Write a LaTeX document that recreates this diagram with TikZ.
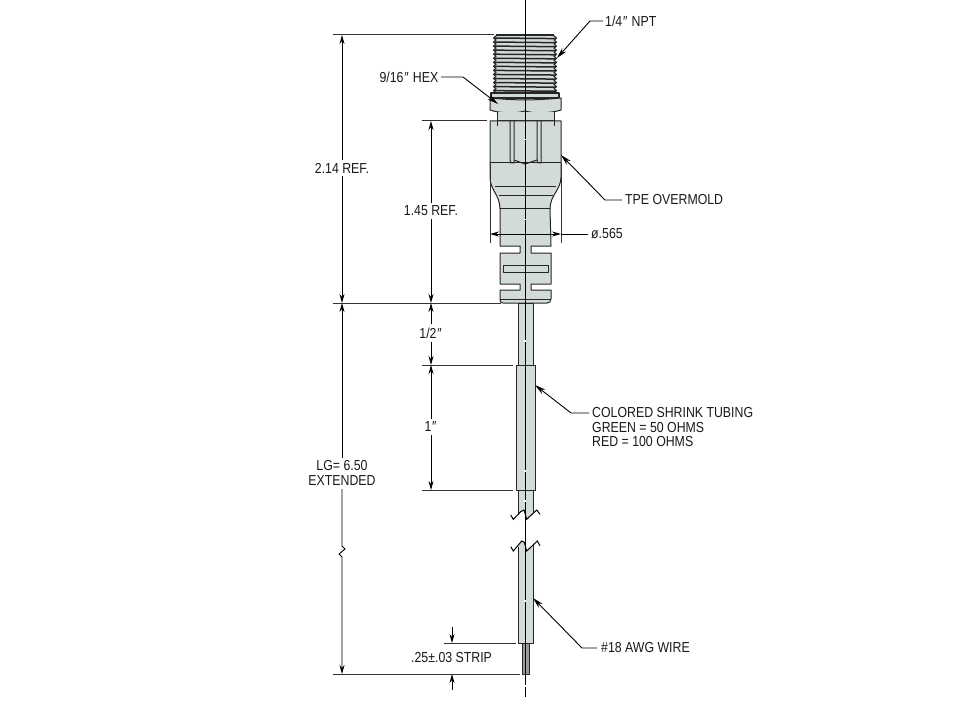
\documentclass[tikz,border=0pt]{standalone}
\usepackage{fontspec}
\setmainfont[FakeStretch=0.85]{Liberation Sans}
\usetikzlibrary{arrows.meta}
\definecolor{body}{HTML}{D3DBD7}
\newcommand{\dprime}{\kern0.8pt ″\kern0.8pt}
\tikzset{
  part/.style={draw=black!85,line width=1pt,fill=body,line join=round},
  inner/.style={draw=black!85,line width=1pt},
  dimline/.style={draw=black,line width=0.9pt},
  extline/.style={draw=black!80,line width=1pt},
  tip/.style={-{Stealth[length=9pt,width=5pt]}},
  lbl/.style={inner sep=0pt,font=\fontsize{14.5}{15}\selectfont,text=black!90},
  lead/.style={draw=black,line width=0.9pt,-{Stealth[length=11pt,width=5.5pt]}},
}
\begin{document}
\begin{tikzpicture}[x=1pt,y=-1pt]
\useasboundingbox[fill=white] (0,0) rectangle (960,719);

% thread
\path[part,line width=1.1pt] (497,35)
  \foreach \k in {0,...,13} {
    -- ({496},{36+\k*4.05}) -- ({493.5},{38+\k*4.05}) -- ({496},{40+\k*4.05})
  }
  -- (496,93) -- (554,93)
  \foreach \k in {13,...,0} {
    -- ({554},{40+\k*4.05}) -- ({556.5},{38+\k*4.05}) -- ({554},{36+\k*4.05})
  }
  -- (553,35) -- cycle;
\draw[inner,line width=1.6pt] (496,35) -- (554,35);
\foreach \k in {0,...,13} {
  \draw[inner,line width=1.5pt] ({494},{38+\k*4.05}) -- ({556},{38.6+\k*4.05});
}
% collar and hex
\path[part,line width=1.3pt] (491,93) rectangle (559,98);
\path[part] (490,98) to[bend right=2] (525,100) to[bend right=2] (561,98) -- (561,110)
  .. controls (552,113) and (535,114) .. (525,111)
  .. controls (515,114) and (498,113) .. (490,110) -- cycle;
% neck
\path[part] (497,112) -- (497,121) -- (554,121) -- (554,112);
% overmold
\path[part] (490,121) -- (561,121) -- (561,177)
  .. controls (561,190) and (550,195) .. (550,209)
  -- (551,246) -- (531,246) -- (531,253) -- (551,253) -- (551,284) -- (531,284) -- (531,290) -- (551,290)
  -- (551,299) .. controls (551,302) and (549,303) .. (547,303) -- (503,303)
  .. controls (501,303) and (500,302) .. (500,299)
  -- (500,290) -- (520,290) -- (520,284) -- (500,284) -- (500,253) -- (520,253) -- (520,246) -- (500,246)
  -- (500,209) .. controls (500,195) and (490,190) .. (490,177) -- cycle;
\draw[inner] (490,163) -- (561,163);
\draw[inner] (495,187) -- (556,187);
\draw[inner] (498.5,196) -- (552.5,196);
\draw[inner] (500,209) -- (550,209);
\draw[inner] (500,299) -- (551,299);
\path[part] (503,265) rectangle (548,272);
% inner hex socket
\draw[inner] (510,121) -- (510,160) -- (511,163) -- (514,163) -- (514,160) -- (514,121);
\draw[inner] (537,121) -- (537,160) -- (538,163) -- (541,163) -- (541,160) -- (541,121);
\draw[inner] (514,160) -- (525,164) -- (537,160);
\draw[inner] (497,113) -- (497,126) (554,113) -- (554,126);
% wire
\path[part] (518,303) rectangle (533,365);
\path[fill=body] (518,490) -- (518,515) -- (520.7,511.7) -- (524,510) -- (526.7,519.3) -- (533,513.3) -- (533,490) -- cycle;
\draw[inner] (518,490) -- (518,515) (533,490) -- (533,513.3);
\path[part] (516,365) rectangle (535,490);
\path[fill=body] (518,547) -- (521.7,541) -- (524.3,542.3) -- (526.7,551) -- (533,545) -- (533,643) -- (518,643) -- cycle;
\draw[inner] (518,547) -- (518,643) -- (533,643) -- (533,545);
\path[part,fill=black!40] (522,643) rectangle (529,674);
\draw[line width=1pt] (510.7,515) -- (513.3,519.3) -- (520.7,511.7) -- (524,510) -- (526.7,519.3) -- (536.7,510) -- (540,514.3);
\draw[line width=1pt] (510.7,546.7) -- (513.3,551) -- (521.7,541) -- (524.3,542.3) -- (526.7,551) -- (537.3,541) -- (540,545.7);
% centre line
\draw[line width=1pt,black] (525,0) -- (525,697);
\foreach \y in {139,219,340,470,500,600,685} {
  \draw[white,line width=1.1pt] (525,\y) -- (525,\y+1.5);
}

% texts
\node[lbl,anchor=west] (npt) at (605,21) {1/4\dprime\ NPT};
\node[lbl,anchor=east] (hex) at (438.5,77) {9/16\dprime\ HEX};
\node[lbl] (ref214) at (342,168) {2.14 REF.};
\node[lbl] (ref145) at (431,211) {1.45 REF.};
\node[lbl,anchor=west] (tpe) at (625,200) {TPE OVERMOLD};
\node[lbl,anchor=west] (dia) at (591,234) {ø.565};
\node[lbl] (half) at (431,333) {1/2\dprime};
\node[lbl] (one) at (431,427) {1\dprime};
\node[lbl,anchor=west] (shrink1) at (592,413) {COLORED SHRINK TUBING};
\node[lbl,anchor=west] (shrink2) at (592,428) {GREEN = 50 OHMS};
\node[lbl,anchor=west] (shrink3) at (592,442) {RED = 100 OHMS};
\node[lbl] (lg1) at (342,466) {LG= 6.50};
\node[lbl] (lg2) at (342,481) {EXTENDED};
\node[lbl,anchor=west] (strip) at (411,658) {.25±.03 STRIP};
\node[lbl,anchor=west] (awg) at (601,648) {\#18 AWG WIRE};

% extension lines
\coordinate (e1a) at (333,35);  \coordinate (e1b) at (494,35);
\coordinate (e2a) at (333,303); \coordinate (e2b) at (501,303);
\coordinate (e3a) at (422,121); \coordinate (e3b) at (487,121);
\coordinate (e4a) at (422,365); \coordinate (e4b) at (513,365);
\coordinate (e5a) at (422,490); \coordinate (e5b) at (513,490);
\coordinate (e6a) at (333,674); \coordinate (e6b) at (520,674);
\coordinate (e7a) at (444,643); \coordinate (e7b) at (516,643);
\foreach \n in {1,...,7} { \draw[extline] (e\n a) -- (e\n b); }
\draw[extline] (490,163) -- (490,243);
\draw[extline] (561,163) -- (561,243);

% dimension lines
\draw[dimline,tip] (ref214.north) ++(0,-3) -- (342,35);
\draw[dimline,tip] (ref214.south) ++(0,3) -- (342,303);
\draw[dimline,tip] (lg1.north) ++(0,-3) -- (342,303);
\draw[dimline,tip] (lg2.south) ++(0,3) -- (342,546) -- (345,549) -- (339,554) -- (342,557) -- (342,674);
\draw[dimline,tip] (ref145.north) ++(0,-3) -- (431,121);
\draw[dimline,tip] (ref145.south) ++(0,3) -- (431,303);
\draw[dimline,tip] (half.north) ++(0,-3) -- (431,303);
\draw[dimline,tip] (half.south) ++(0,3) -- (431,365);
\draw[dimline,tip] (one.north) ++(0,-3) -- (431,365);
\draw[dimline,tip] (one.south) ++(0,3) -- (431,490);
\draw[dimline,tip] (452,627) -- (452,643);
\draw[dimline,tip] (452,690) -- (452,674);
\draw[dimline,tip] (525,234) -- (490,234);
\draw[dimline,tip] (525,234) -- (561,234);
\draw[dimline] (dia.west) ++(-3,0) -- (561,234);

% leaders
\draw[lead] (npt.west) ++(-2,0) -- (590,21) -- (557,58);
\draw[lead] (hex.east) ++(2.5,0) -- (463,77) -- (498,104);
\draw[lead] (tpe.west) ++(-3,0) -- (605,200) -- (561,155);
\draw[lead] (shrink1.west) ++(-3,0) -- (571,413) -- (535,385);
\draw[lead] (awg.west) ++(-4,0) -- (582,648) -- (533,598);
\end{tikzpicture}
\end{document}
